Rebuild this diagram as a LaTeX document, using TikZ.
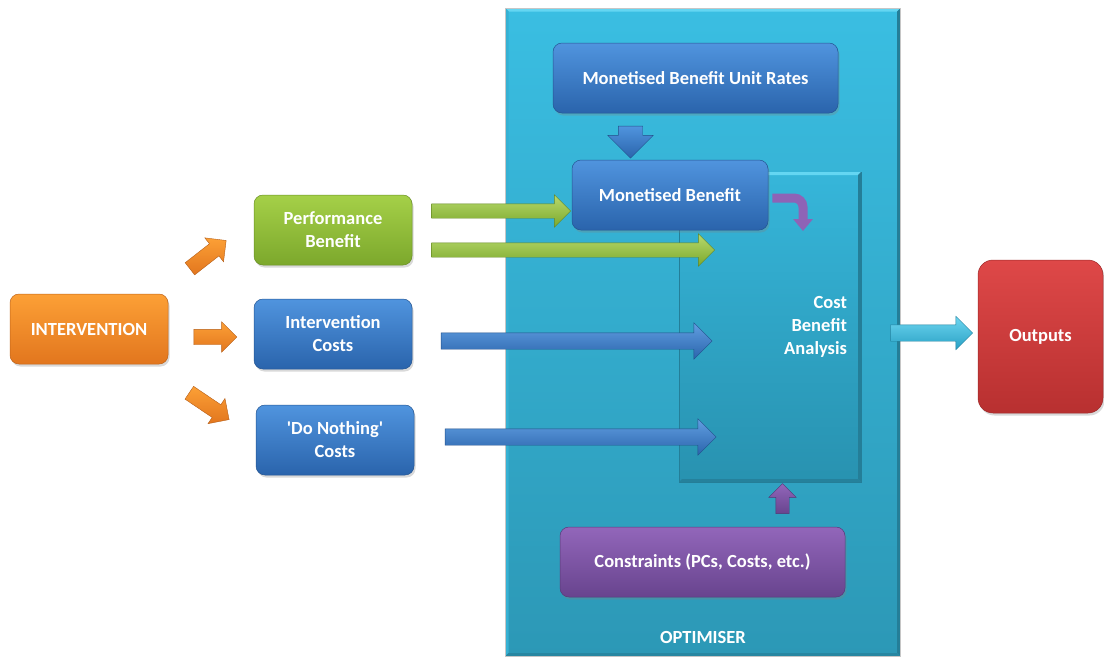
\documentclass[tikz,border=0pt]{standalone}
\usepackage{fontspec}
\newfontfamily\labelfont{Carlito}
\usetikzlibrary{shapes.arrows,shadows,arrows.meta}

% box colours (top / bottom of each gradient)
\definecolor{blueT}{RGB}{80,148,222}
\definecolor{blueB}{RGB}{42,100,172}
\definecolor{greenT}{RGB}{165,208,72}
\definecolor{greenB}{RGB}{124,168,44}
\definecolor{orangeT}{RGB}{252,160,54}
\definecolor{orangeB}{RGB}{226,118,30}
\definecolor{purpT}{RGB}{146,102,186}
\definecolor{purpB}{RGB}{104,68,142}
\definecolor{redT}{RGB}{222,72,72}
\definecolor{redB}{RGB}{184,48,48}
\definecolor{optT}{RGB}{58,190,226}
\definecolor{optB}{RGB}{44,152,182}
\definecolor{optLight}{RGB}{100,214,242}
\definecolor{optDark}{RGB}{36,126,152}
\definecolor{cbaT}{RGB}{54,182,218}
\definecolor{cbaB}{RGB}{40,146,176}
\definecolor{cyanT}{RGB}{110,214,240}
\definecolor{cyanB}{RGB}{40,160,196}

\begin{document}
\begin{tikzpicture}[x=1pt,y=-1pt,
  lbl/.style={text=white, font=\labelfont\fontsize{18.5}{23}\selectfont\bfseries, align=center},
  box/.style={lbl, rounded corners=9pt, minimum width=158pt, minimum height=70pt,
    inner sep=0pt, line width=0.5pt,
    drop shadow={shadow xshift=1.5pt, shadow yshift=-2.5pt, opacity=0.3}},
  bluebox/.style={box, top color=blueT, bottom color=blueB, draw=blueB!85!black},
  greenbox/.style={box, top color=greenT, bottom color=greenB, draw=greenB!85!black},
  orangebox/.style={box, top color=orangeT, bottom color=orangeB, draw=orangeB!85!black},
  purplebox/.style={box, top color=purpT, bottom color=purpB, draw=purpB!85!black},
  redbox/.style={box, rounded corners=15pt, top color=redT, bottom color=redB, draw=redB!85!black},
  blockarrow/.style n args={3}{single arrow, single arrow head extend=#2,
    inner xsep=0pt, inner ysep=#1, minimum height=#3, outer sep=0pt, line width=0.4pt},
  orangearrow/.style={blockarrow={7.5pt}{7.5pt}{#1}, top color=orangeT, bottom color=orangeB, draw=orangeB!80!black},
  greenarrow/.style={blockarrow={7pt}{9pt}{#1}, top color=greenT!80!white, bottom color=greenB, draw=greenB!80!black},
  bluearrow/.style={blockarrow={8pt}{10pt}{#1}, top color=blueT!90!white, bottom color=blueB, draw=blueB!80!black},
  cyanarrow/.style={blockarrow={8pt}{8.5pt}{#1}, top color=cyanT, bottom color=cyanB, draw=cyanB!80!black},
  purplearrow/.style={blockarrow={6.5pt}{7pt}{#1}, top color=purpT, bottom color=purpB, draw=purpB!80!black},
]
\useasboundingbox (0,0) rectangle (1104,657);

% ---------- optimiser frame ----------
\node[minimum width=395pt, minimum height=648pt, inner sep=0pt, outer sep=0pt,
      top color=optT, bottom color=optB, draw=gray!45, line width=0.6pt] (opt) at (703,332) {};
\fill[optLight] (opt.north west) -- (opt.north east) -- ([xshift=-3.5pt,yshift=-3.5pt]opt.north east)
  -- ([xshift=3.5pt,yshift=-3.5pt]opt.north west) -- cycle;
\fill[optT!80!optDark] (opt.north west) -- ([xshift=3pt,yshift=-3.5pt]opt.north west)
  -- ([xshift=3pt,yshift=3pt]opt.south west) -- (opt.south west) -- cycle;
\fill[optDark] (opt.north east) -- ([xshift=-3.5pt,yshift=-3.5pt]opt.north east)
  -- ([xshift=-3.5pt,yshift=3pt]opt.south east) -- (opt.south east) -- cycle;
\fill[optDark!70!optB] (opt.south west) -- ([xshift=3pt,yshift=3pt]opt.south west)
  -- ([xshift=-3.5pt,yshift=3pt]opt.south east) -- (opt.south east) -- cycle;
\draw[gray!45, line width=0.6pt] (opt.south west) rectangle (opt.north east);
\node[lbl] (optlabel) at (703,637) {OPTIMISER};

% ---------- cost benefit analysis panel ----------
\node[minimum width=182pt, minimum height=310pt, inner sep=0pt, outer sep=0pt,
      top color=cbaT, bottom color=cbaB, draw=optDark, line width=0.6pt,
      lbl, text width=154pt, align=right] (cba) at (770,327) {Cost\\Benefit\\Analysis};
\fill[optLight] (cba.north west) -- (cba.north east) -- ([xshift=-3pt,yshift=-3pt]cba.north east)
  -- ([xshift=3pt,yshift=-3pt]cba.north west) -- cycle;
\fill[optDark] (cba.north east) -- ([xshift=-3pt,yshift=-3pt]cba.north east)
  -- ([xshift=-3pt,yshift=3pt]cba.south east) -- (cba.south east) -- cycle;
\fill[optDark!85!cbaB] (cba.south west) -- ([xshift=3pt,yshift=3pt]cba.south west)
  -- ([xshift=-3pt,yshift=3pt]cba.south east) -- (cba.south east) -- cycle;

% ---------- boxes ----------
\node[bluebox, minimum width=285pt] (rates) at (695.5,78) {Monetised Benefit Unit Rates};
\node[bluebox, minimum width=196pt] (monben) at (670,195) {Monetised Benefit};
\node[purplebox, minimum width=285pt] (cons) at (702.5,562) {Constraints (PCs, Costs, etc.)};

\node[orangebox] (intv) at (89,329) {INTERVENTION};
\node[greenbox] (perf) at (333,230) {Performance\\Benefit};
\node[bluebox] (icost) at (333,334) {Intervention\\Costs};
\node[bluebox] (dncost) at (335,440) {'Do Nothing'\\Costs};
\node[redbox, minimum width=125pt, minimum height=153pt] (out) at (1040.5,336.5) {Outputs};

% ---------- block arrows ----------
\node[orangearrow=46pt, rotate=38] (a1) at (205,257) {};
\node[orangearrow=43pt] (a2) at (211.5,337) {};
\node[orangearrow=48pt, rotate=-34] (a3) at (206,404) {};

\node[greenarrow=139pt] (g1) at (497.5,211) {};
\node[greenarrow=283pt] (g2) at (569.5,250) {};

\node[bluearrow=271pt] (b1) at (572.5,341) {};
\node[bluearrow=271pt] (b2) at (576.5,437) {};

\node[blockarrow={12pt}{10.5pt}{32pt}, rotate=-90, top color=blueT, bottom color=blueB,
      draw=blueB!80!black] (down) at (630.5,136) {};

\node[purplearrow=30pt, rotate=90] (up) at (782.5,502) {};

\node[cyanarrow=82pt] (c1) at (927.5,333) {};

% bent arrow from the monetised benefit into the analysis panel
\coordinate (bendend) at (803,231);
\draw[line width=9pt, draw=purpT!90!purpB, rounded corners=9pt,
      -{Triangle[width=19pt,length=12pt]}]
  ([xshift=4pt,yshift=-3pt]monben.east) -| (bendend);

\end{tikzpicture}
\end{document}
